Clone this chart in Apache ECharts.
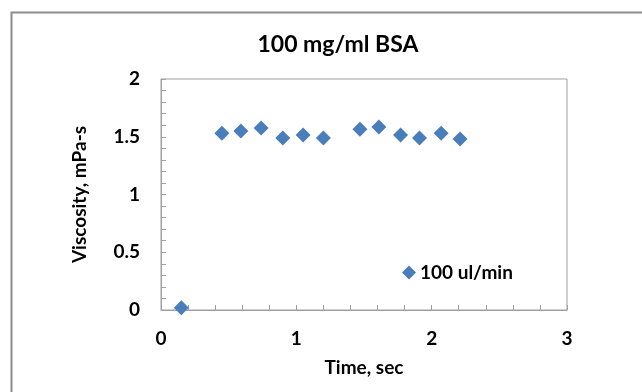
<!DOCTYPE html>
<html>
<head>
<meta charset="utf-8">
<script src="https://cdn.jsdelivr.net/npm/echarts@6/dist/echarts.min.js"></script>
<style>
	html, body { margin: 0; padding: 0; background: #fff; }
	#chart { width: 642px; height: 392px; }
</style>
</head>
<body>
<div id="chart"></div>
<script>
const timeSec = [0.15, 0.45, 0.59, 0.74, 0.9, 1.05, 1.2, 1.47, 1.61, 1.77, 1.91, 2.07, 2.21];
const viscosity = [0.02, 1.53, 1.55, 1.575, 1.49, 1.515, 1.49, 1.565, 1.585, 1.515, 1.49, 1.53, 1.48];
const seriesName = '100 ul/min';

const font = 'Lato, "Open Sans", sans-serif';
const gray = '#a0a0a0';
const labelStyle = {fontFamily: font, fontWeight: 'bold', fontSize: 19, color: '#000'};

const chart = echarts.init(document.getElementById('chart'));

chart.setOption({
	animation: false,
	title: {
		text: '100 mg/ml BSA',
		left: 333,
		textAlign: 'center',
		top: 28,
		textStyle: {...labelStyle, fontSize: 23},
	},
	graphic: [{
		type: 'rect',
		shape: {x: 11.5, y: 12.5, width: 700, height: 500},
		style: {fill: null, stroke: '#8c8c8c', lineWidth: 2},
		silent: true,
	}],
	legend: {
		left: 397,
		top: 258,
		itemWidth: 14,
		itemHeight: 14,
		itemGap: 0,
		textStyle: {...labelStyle, padding: [0, 0, 0, -1]},
		data: [{name: seriesName, icon: 'diamond'}],
	},
	grid: {
		left: 161, right: 75, top: 79, bottom: 82,
		show: true, borderColor: gray, borderWidth: 1,
	},
	xAxis: {
		type: 'value',
		min: 0, max: 3, interval: 1,
		name: 'Time, sec',
		nameLocation: 'middle',
		nameGap: 48,
		nameMoveOverlap: false,
		nameTextStyle: labelStyle,
		axisLine: {lineStyle: {color: gray}},
		axisTick: {inside: true, length: 5, lineStyle: {color: gray}},
		minorTick: {show: true, splitNumber: 5, length: 5, lineStyle: {color: gray}},
		splitLine: {show: false},
		axisLabel: {...labelStyle, margin: 19},
	},
	yAxis: {
		type: 'value',
		min: 0, max: 2, interval: 0.5,
		name: 'Viscosity, mPa-s',
		nameLocation: 'middle',
		nameGap: 72,
		nameMoveOverlap: false,
		nameTextStyle: labelStyle,
		axisLine: {show: true, lineStyle: {color: gray}},
		axisTick: {show: true, inside: true, length: 5, lineStyle: {color: gray}},
		minorTick: {show: true, splitNumber: 5, length: 5, lineStyle: {color: gray}},
		splitLine: {show: false},
		axisLabel: {...labelStyle, margin: 21},
	},
	series: [{
		name: seriesName,
		type: 'scatter',
		symbol: 'diamond',
		symbolSize: 15,
		itemStyle: {color: '#4a7ebb', opacity: 1},
		data: timeSec.map((t, i) => [t, viscosity[i]]),
	}],
});
</script>
</body>
</html>
